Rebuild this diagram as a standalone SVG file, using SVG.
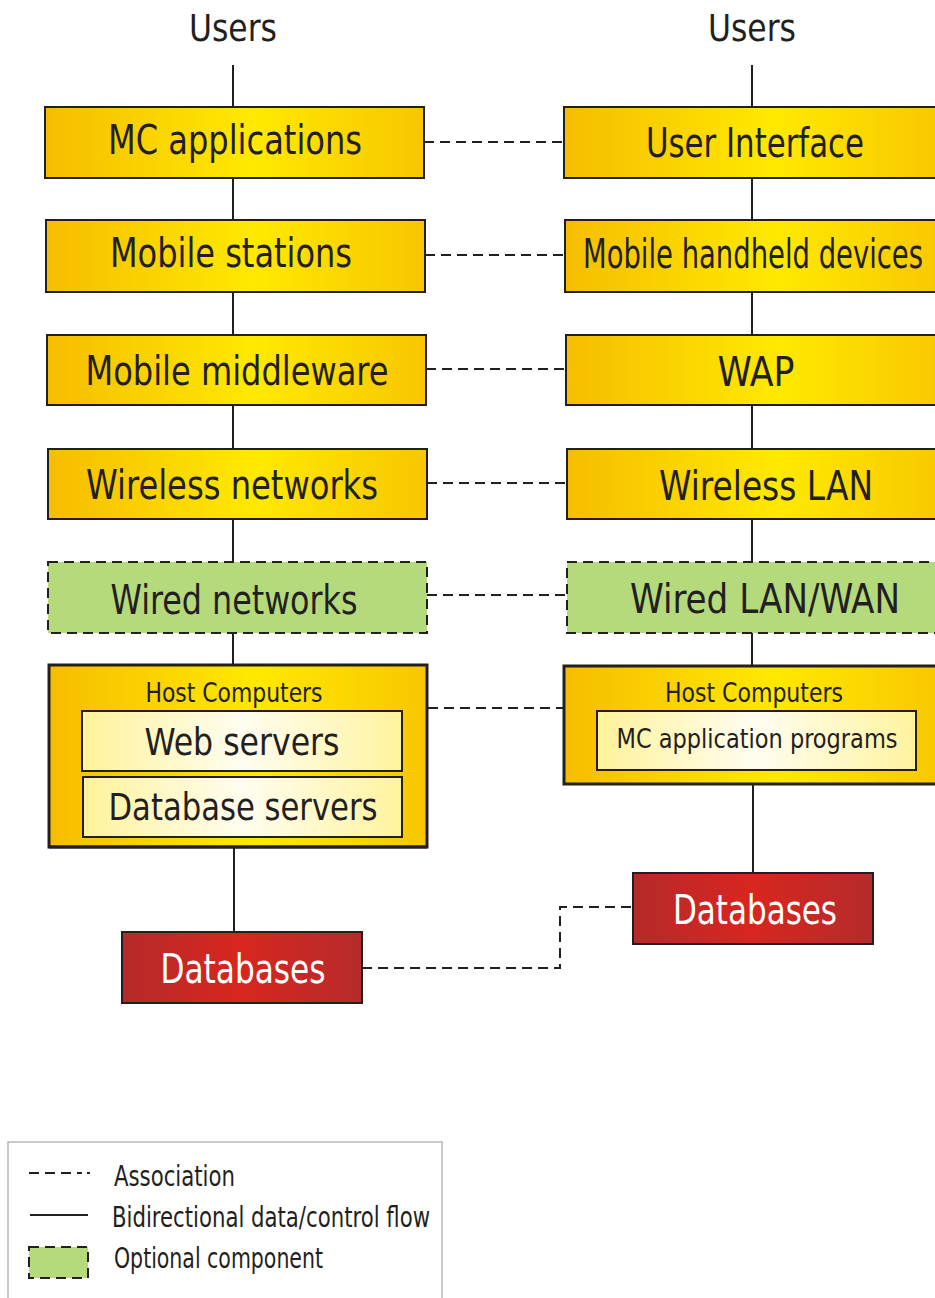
<svg xmlns="http://www.w3.org/2000/svg" width="935" height="1298" viewBox="0 0 935 1298">
<style>
text{font-family:"Liberation Sans Narrow","DejaVu Sans Condensed","Liberation Sans",sans-serif;fill:#231f20;text-anchor:middle}
.big{font-size:40px}
.mid{font-size:37px}
.small{font-size:27px}
.leg{font-size:28px;text-anchor:start}
.wt{fill:#ffffff}
.box{fill:url(#yel);stroke:#231f20;stroke-width:2}
.host{fill:url(#yel);stroke:#231f20;stroke-width:3}
.inner{fill:url(#pale);stroke:#231f20;stroke-width:2}
.opt{fill:#b5da7c;stroke:#231f20;stroke-width:2;stroke-dasharray:10 6}
.db{fill:url(#red);stroke:#231f20;stroke-width:2}
.flow{stroke:#231f20;stroke-width:2;fill:none}
.assoc{stroke:#231f20;stroke-width:2;fill:none;stroke-dasharray:10 6}
</style>
<defs>
<linearGradient id="yel" x1="0" y1="0" x2="1" y2="0">
<stop offset="0" stop-color="#f6bd00"/>
<stop offset="0.55" stop-color="#ffe900"/>
<stop offset="1" stop-color="#f8c600"/>
</linearGradient>
<linearGradient id="pale" x1="0" y1="0" x2="1" y2="0">
<stop offset="0" stop-color="#fff29a"/>
<stop offset="0.5" stop-color="#fffdf0"/>
<stop offset="1" stop-color="#fff39e"/>
</linearGradient>
<linearGradient id="red" x1="0" y1="0" x2="1" y2="0">
<stop offset="0" stop-color="#b52a2a"/>
<stop offset="0.5" stop-color="#d8261f"/>
<stop offset="1" stop-color="#b52b2b"/>
</linearGradient>
</defs>

<g id="connectors">
<line class="flow" x1="233" y1="65" x2="233" y2="107"/>
<line class="flow" x1="233" y1="178" x2="233" y2="220"/>
<line class="flow" x1="233" y1="292" x2="233" y2="335"/>
<line class="flow" x1="233" y1="405" x2="233" y2="449"/>
<line class="flow" x1="233" y1="519" x2="233" y2="562"/>
<line class="flow" x1="233" y1="633" x2="233" y2="665"/>
<line class="flow" x1="234" y1="848" x2="234" y2="932"/>
<line class="flow" x1="752" y1="65" x2="752" y2="107"/>
<line class="flow" x1="752" y1="178" x2="752" y2="220"/>
<line class="flow" x1="752" y1="292" x2="752" y2="335"/>
<line class="flow" x1="752" y1="405" x2="752" y2="449"/>
<line class="flow" x1="752" y1="519" x2="752" y2="562"/>
<line class="flow" x1="752" y1="633" x2="752" y2="666"/>
<line class="flow" x1="753" y1="784" x2="753" y2="873"/>
<line class="assoc" x1="424" y1="142" x2="564" y2="142"/>
<line class="assoc" x1="425" y1="255" x2="565" y2="255"/>
<line class="assoc" x1="426" y1="369" x2="566" y2="369"/>
<line class="assoc" x1="427" y1="483" x2="567" y2="483"/>
<line class="assoc" x1="427" y1="595" x2="567" y2="595"/>
<line class="assoc" x1="428" y1="708" x2="563" y2="708"/>
<polyline class="assoc" points="362,968 560,968 560,907 633,907"/>
</g>

<g id="users-left"><text class="mid" x="233" y="41" textLength="88" lengthAdjust="spacingAndGlyphs">Users</text></g>
<g id="users-right"><text class="mid" x="752" y="41" textLength="88" lengthAdjust="spacingAndGlyphs">Users</text></g>

<g id="mc-applications">
<rect class="box" x="45" y="107" width="379" height="71"/>
<text class="big" x="235" y="154" textLength="254" lengthAdjust="spacingAndGlyphs">MC applications</text>
</g>
<g id="mobile-stations">
<rect class="box" x="46" y="220" width="379" height="72"/>
<text class="big" x="231" y="267" textLength="242" lengthAdjust="spacingAndGlyphs">Mobile stations</text>
</g>
<g id="mobile-middleware">
<rect class="box" x="47" y="335" width="379" height="70"/>
<text class="big" x="237" y="385" textLength="303" lengthAdjust="spacingAndGlyphs">Mobile middleware</text>
</g>
<g id="wireless-networks">
<rect class="box" x="48" y="449" width="379" height="70"/>
<text class="big" x="232" y="499" textLength="292" lengthAdjust="spacingAndGlyphs">Wireless networks</text>
</g>
<g id="wired-networks">
<rect class="opt" x="48" y="562" width="379" height="71"/>
<text class="big" x="234" y="614" textLength="247" lengthAdjust="spacingAndGlyphs">Wired networks</text>
</g>
<g id="host-left">
<rect class="host" x="49" y="665" width="378" height="182"/>
<line x1="49" y1="847" x2="427" y2="847" stroke="#231f20" stroke-width="3"/>
<text class="small" x="234" y="702" textLength="177" lengthAdjust="spacingAndGlyphs">Host Computers</text>
<rect class="inner" x="82" y="711" width="320" height="60"/>
<text class="mid" x="242" y="755" textLength="195" lengthAdjust="spacingAndGlyphs">Web servers</text>
<rect class="inner" x="83" y="777" width="319" height="60"/>
<text class="mid" x="243" y="820" textLength="269" lengthAdjust="spacingAndGlyphs">Database servers</text>
</g>
<g id="databases-left">
<rect class="db" x="122" y="932" width="240" height="71"/>
<text class="big wt" x="243" y="983" textLength="165" lengthAdjust="spacingAndGlyphs">Databases</text>
</g>

<g id="user-interface">
<rect class="box" x="564" y="107" width="385" height="71"/>
<text class="big" x="755" y="157" textLength="218" lengthAdjust="spacingAndGlyphs">User Interface</text>
</g>
<g id="mobile-handheld">
<rect class="box" x="565" y="220" width="385" height="72"/>
<text class="big" x="753" y="268" textLength="340" lengthAdjust="spacingAndGlyphs">Mobile handheld devices</text>
</g>
<g id="wap">
<rect class="box" x="566" y="335" width="385" height="70"/>
<text class="big" x="756" y="386" textLength="77" lengthAdjust="spacingAndGlyphs">WAP</text>
</g>
<g id="wireless-lan">
<rect class="box" x="567" y="449" width="385" height="70"/>
<text class="big" x="766" y="500" textLength="214" lengthAdjust="spacingAndGlyphs">Wireless LAN</text>
</g>
<g id="wired-lan-wan">
<rect class="opt" x="567" y="562" width="385" height="71"/>
<text class="big" x="765" y="613" textLength="270" lengthAdjust="spacingAndGlyphs">Wired LAN/WAN</text>
</g>
<g id="host-right">
<rect class="host" x="564" y="666" width="385" height="118"/>
<text class="small" x="754" y="702" textLength="178" lengthAdjust="spacingAndGlyphs">Host Computers</text>
<rect class="inner" x="597" y="711" width="319" height="59"/>
<text class="small" x="757" y="748" textLength="281" lengthAdjust="spacingAndGlyphs">MC application programs</text>
</g>
<g id="databases-right">
<rect class="db" x="633" y="873" width="240" height="71"/>
<text class="big wt" x="755" y="924" textLength="164" lengthAdjust="spacingAndGlyphs">Databases</text>
</g>

<g id="legend">
<rect x="8" y="1142" width="434" height="170" fill="#ffffff" stroke="#b8b8b8" stroke-width="1.5"/>
<line class="assoc" x1="29" y1="1173" x2="82" y2="1173" stroke-dasharray="12 6"/>
<line class="flow" x1="87" y1="1173" x2="90" y2="1173" stroke-width="1.5"/>
<text class="leg" x="114" y="1186" textLength="121" lengthAdjust="spacingAndGlyphs">Association</text>
<line class="flow" x1="30" y1="1215" x2="88" y2="1215"/>
<text class="leg" x="112" y="1227" textLength="318" lengthAdjust="spacingAndGlyphs">Bidirectional data/control flow</text>
<rect class="opt" x="29" y="1247" width="59" height="31"/>
<text class="leg" x="114" y="1268" textLength="209" lengthAdjust="spacingAndGlyphs">Optional component</text>
</g>
</svg>
